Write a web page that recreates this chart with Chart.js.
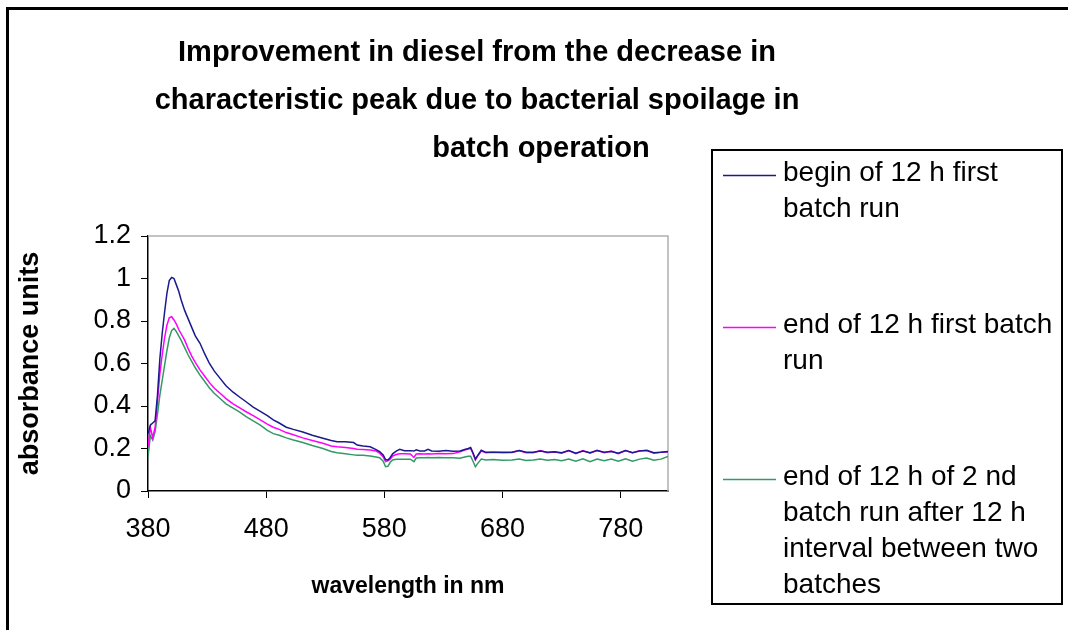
<!DOCTYPE html>
<html>
<head>
<meta charset="utf-8">
<script src="https://cdn.jsdelivr.net/npm/chart.js@4.4.0/dist/chart.umd.min.js"></script>
<style>
  html, body { margin: 0; padding: 0; background: #fff; }
  #wrap { position: relative; width: 1068px; height: 630px; }
</style>
</head>
<body>
<div id="wrap"><canvas id="chart" width="1068" height="630"></canvas></div>
<script>
// wavelength (nm) and absorbance
const wavelengths = [
  380, 382, 384, 386, 388, 390, 392, 394, 396, 398, 400, 402, 404, 406, 408, 411, 414, 417, 420, 424,
  428, 432, 436, 441, 446, 452, 458, 463, 469, 475, 481, 486, 491, 497, 503, 511, 519, 528, 535, 540,
  547, 554, 557, 562, 568, 573, 576, 579, 581, 583, 585, 587, 590, 593, 597, 602, 605, 607, 610, 614,
  617, 620, 626, 632, 638, 644, 648, 651, 653, 655, 657, 659, 662, 666, 672, 680, 688, 694, 700, 706,
  712, 718, 724, 730, 736, 742, 748, 754, 760, 766, 772, 778, 784, 790, 796, 802, 808, 814, 820
];
const beginFirstRun = [
  0.27, 0.31, 0.32, 0.33, 0.45, 0.62, 0.74, 0.84, 0.93, 0.99, 1.005, 1.0, 0.97, 0.94, 0.90, 0.85, 0.81, 0.77, 0.73, 0.695,
  0.645, 0.60, 0.565, 0.53, 0.495, 0.465, 0.44, 0.42, 0.395, 0.375, 0.355, 0.335, 0.32, 0.30, 0.29, 0.278, 0.262, 0.248, 0.238, 0.232,
  0.232, 0.228, 0.216, 0.212, 0.208, 0.195, 0.185, 0.17, 0.148, 0.146, 0.158, 0.175, 0.188, 0.196, 0.19, 0.19, 0.188, 0.194, 0.188, 0.188,
  0.196, 0.188, 0.187, 0.19, 0.187, 0.188, 0.195, 0.2, 0.205, 0.18, 0.15, 0.168, 0.192, 0.182, 0.182, 0.182, 0.182, 0.19, 0.182, 0.182,
  0.188, 0.182, 0.185, 0.18, 0.19, 0.178, 0.188, 0.18, 0.19, 0.182, 0.186, 0.178, 0.19, 0.18, 0.188, 0.192, 0.18, 0.182, 0.186
];
const endFirstRun = [
  0.21, 0.30, 0.25, 0.30, 0.42, 0.55, 0.64, 0.72, 0.78, 0.815, 0.82, 0.805, 0.785, 0.76, 0.74, 0.71, 0.67, 0.635, 0.605, 0.57,
  0.54, 0.51, 0.485, 0.46, 0.435, 0.41, 0.39, 0.373, 0.355, 0.335, 0.315, 0.30, 0.29, 0.275, 0.265, 0.25, 0.238, 0.225, 0.212, 0.208,
  0.205, 0.20, 0.196, 0.195, 0.193, 0.188, 0.178, 0.16, 0.138, 0.142, 0.15, 0.165, 0.172, 0.175, 0.175, 0.174, 0.158, 0.174, 0.175, 0.174,
  0.175, 0.174, 0.176, 0.175, 0.176, 0.185, 0.193, 0.198, 0.20, 0.175, 0.146, 0.165, 0.188, 0.18, 0.182, 0.18, 0.181, 0.19, 0.18, 0.18,
  0.19, 0.18, 0.184, 0.178, 0.19, 0.176, 0.19, 0.178, 0.192, 0.18, 0.188, 0.176, 0.19, 0.18, 0.19, 0.19, 0.178, 0.182, 0.184
];
const endSecondRun = [
  0.16, 0.26, 0.24, 0.28, 0.36, 0.45, 0.52, 0.59, 0.66, 0.72, 0.755, 0.765, 0.75, 0.73, 0.71, 0.675, 0.64, 0.61, 0.58, 0.545,
  0.515, 0.485, 0.46, 0.435, 0.41, 0.39, 0.37, 0.35, 0.33, 0.31, 0.285, 0.27, 0.262, 0.25, 0.24, 0.228, 0.214, 0.20, 0.186, 0.18,
  0.175, 0.17, 0.168, 0.168, 0.165, 0.16, 0.157, 0.14, 0.114, 0.116, 0.135, 0.146, 0.149, 0.15, 0.15, 0.15, 0.138, 0.155, 0.157, 0.157,
  0.158, 0.157, 0.158, 0.157, 0.156, 0.154, 0.16, 0.164, 0.164, 0.14, 0.114, 0.13, 0.15, 0.146, 0.148, 0.145, 0.146, 0.15, 0.144, 0.146,
  0.15, 0.145, 0.148, 0.142, 0.15, 0.14, 0.152, 0.138, 0.15, 0.142, 0.15, 0.14, 0.152, 0.14, 0.15, 0.155, 0.145, 0.15, 0.162
];

const seriesLabels = [
  'begin of 12 h first batch run',
  'end of 12 h first batch run',
  'end of 12 h of 2 nd batch run after 12 h interval between two batches'
];
const seriesColors = ['#1a1a8c', '#FF00FF', '#339966'];
const xTicks = [380, 480, 580, 680, 780];
const yTicks = [0, 0.2, 0.4, 0.6, 0.8, 1, 1.2];
const titleLines = [
  'Improvement in diesel from the decrease in',
  'characteristic peak due to bacterial spoilage in',
  'batch operation'
];

const FONT = '"Liberation Sans", Arial, sans-serif';

function toPoints(values) {
  return wavelengths.map((w, i) => ({ x: w, y: values[i] }));
}

// wrap legend text to the box width
function wrapText(ctx, text, maxWidth) {
  const words = text.split(' ');
  const lines = [];
  let line = '';
  words.forEach(word => {
    const test = line ? line + ' ' + word : word;
    if (line && ctx.measureText(test).width > maxWidth) {
      lines.push(line);
      line = word;
    } else {
      line = test;
    }
  });
  if (line) lines.push(line);
  return lines;
}

const framePlugin = {
  id: 'frame',
  beforeDraw(chart) {
    const ctx = chart.ctx;
    ctx.save();
    ctx.fillStyle = '#fff';
    ctx.fillRect(0, 0, chart.width, chart.height);
    // outer chart border (runs off the right and bottom edge)
    ctx.strokeStyle = '#000';
    ctx.lineWidth = 3;
    ctx.strokeRect(7.5, 8.5, 1080, 640);
    ctx.restore();
  },
  beforeDatasetsDraw(chart) {
    const { ctx, chartArea: a } = chart;
    ctx.save();
    ctx.strokeStyle = '#b0b0b0';
    ctx.lineWidth = 1.5;
    ctx.beginPath();
    ctx.moveTo(a.left, a.top);
    ctx.lineTo(a.right, a.top);
    ctx.lineTo(a.right, a.bottom);
    ctx.stroke();
    ctx.restore();
  },
  afterDraw(chart) {
    const ctx = chart.ctx;
    ctx.save();
    // title, last line sits further right as in the original
    ctx.fillStyle = '#000';
    ctx.font = 'bold 29px ' + FONT;
    ctx.textAlign = 'center';
    ctx.textBaseline = 'middle';
    const titleX = [477, 477, 541];
    titleLines.forEach((t, i) => ctx.fillText(t, titleX[i], 53 + i * 48));

    // legend box
    const box = { left: 712, top: 150, right: 1062, bottom: 604 };
    ctx.lineWidth = 2;
    ctx.strokeStyle = '#000';
    ctx.strokeRect(box.left, box.top, box.right - box.left, box.bottom - box.top);
    ctx.font = '28px ' + FONT;
    ctx.textAlign = 'left';
    const textX = 783;
    seriesLabels.forEach((label, i) => {
      const y0 = 173 + i * 152;
      ctx.strokeStyle = seriesColors[i];
      ctx.lineWidth = 1.5;
      ctx.beginPath();
      ctx.moveTo(723, y0 + 2.5);
      ctx.lineTo(776, y0 + 2.5);
      ctx.stroke();
      ctx.fillStyle = '#000';
      wrapText(ctx, label, box.right - textX - 4).forEach((line, j) => {
        ctx.fillText(line, textX, y0 + j * 36);
      });
    });
    ctx.restore();
  }
};

new Chart(document.getElementById('chart').getContext('2d'), {
  type: 'line',
  data: {
    datasets: [beginFirstRun, endFirstRun, endSecondRun].map((vals, i) => ({
      label: seriesLabels[i],
      data: toPoints(vals),
      borderColor: seriesColors[i],
      borderWidth: 1.5,
      pointRadius: 0,
      tension: 0,
      fill: false
    }))
  },
  options: {
    responsive: false,
    animation: false,
    devicePixelRatio: 1,
    layout: { padding: { left: 14, top: 236, right: 400, bottom: 30 } },
    plugins: {
      legend: { display: false },
      tooltip: { enabled: false }
    },
    scales: {
      x: {
        type: 'linear',
        min: 380,
        max: 820,
        afterBuildTicks: s => { s.ticks = xTicks.map(v => ({ value: v })); },
        afterFit: s => { s.height = 630 - 30 - 491; },
        grid: { drawOnChartArea: false, tickLength: 7, tickColor: '#000', tickWidth: 1 },
        border: { color: '#000', width: 1.5 },
        ticks: { color: '#000', padding: 15, maxRotation: 0, font: { family: FONT, size: 27 }, callback: v => String(v) },
        title: {
          display: true,
          text: 'wavelength in nm',
          color: '#000',
          padding: 0,
          font: { family: FONT, size: 23, weight: 'bold' }
        }
      },
      y: {
        min: 0,
        max: 1.2,
        afterBuildTicks: s => { s.ticks = yTicks.map(v => ({ value: v })); },
        afterFit: s => { s.width = 148 - 14; },
        grid: { drawOnChartArea: false, tickLength: 7, tickColor: '#000', tickWidth: 1 },
        border: { color: '#000', width: 1.5 },
        ticks: { color: '#000', padding: 10, font: { family: FONT, size: 27 }, callback: v => String(+v.toFixed(1)) },
        title: {
          display: true,
          text: 'absorbance units',
          color: '#000',
          padding: 0,
          font: { family: FONT, size: 27, weight: 'bold' }
        }
      }
    }
  },
  plugins: [framePlugin]
});
</script>
</body>
</html>
